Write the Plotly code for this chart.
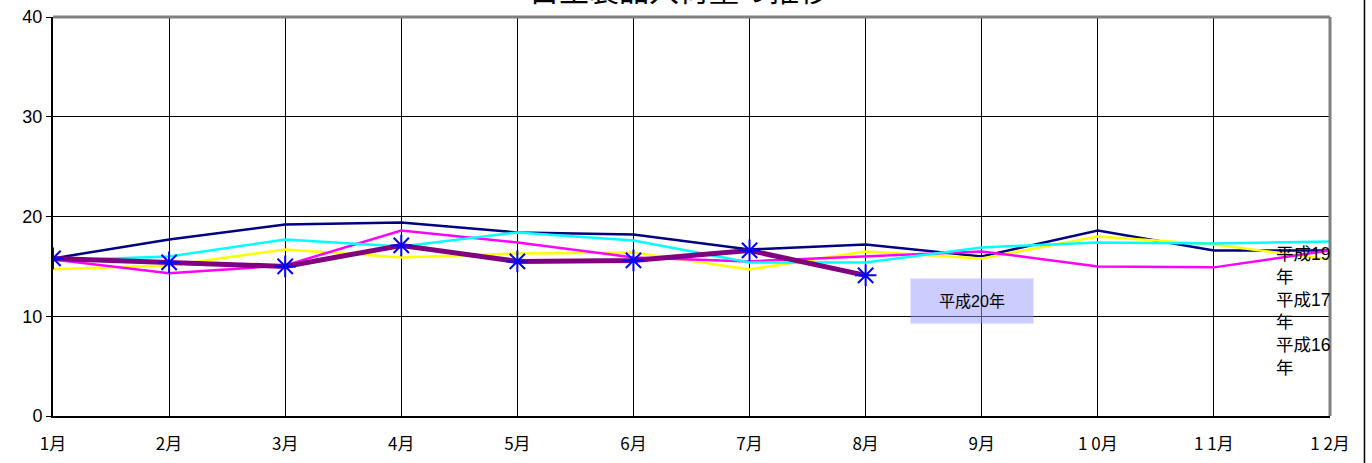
import plotly.graph_objects as go

months = list(range(1, 13))
month_labels = ['1月', '2月', '3月', '4月', '5月', '6月', '7月', '8月', '9月',
                '1 0月', '1 1月', '1 2月']

# values
h16 = [15.8, 17.7, 19.2, 19.4, 18.4, 18.2, 16.7, 17.2, 16.0, 18.6, 16.6, 16.6]
h17 = [15.7, 14.3, 15.1, 18.6, 17.4, 15.9, 15.5, 16.0, 16.5, 15.0, 14.9, 16.6]
h18 = [14.7, 15.1, 16.7, 15.9, 16.3, 16.4, 14.7, 16.5, 15.8, 18.0, 17.2, 15.7]
h19 = [15.6, 16.0, 17.7, 17.0, 18.4, 17.6, 15.4, 15.4, 16.9, 17.4, 17.3, 17.5]
h20 = [15.8, 15.4, 15.0, 17.1, 15.5, 15.6, 16.6, 14.1]

series = [
    ('平成16年', h16, '#000080'),
    ('平成18年', h18, '#ffff00'),
    ('平成17年', h17, '#ff00ff'),
    ('平成19年', h19, '#00ffff'),
]

fig = go.Figure()
for name, vals, color in series:
    fig.add_trace(go.Scatter(
        x=months, y=vals, name=name, mode='lines',
        line=dict(color=color, width=2.5)
    ))
fig.add_trace(go.Scatter(
    x=months[:len(h20)], y=h20, name='平成20年', mode='lines+markers',
    line=dict(color='#800080', width=5),
    marker=dict(symbol='asterisk-open', size=18, color='#0000ff',
                line=dict(color='#0000ff', width=2))
))

fig.update_layout(
    width=1372, height=463,
    margin=dict(l=53, r=42, t=17, b=47),
    paper_bgcolor='white', plot_bgcolor='white',
    showlegend=False,
    font=dict(family='Liberation Sans, Noto Sans CJK JP', color='black'),
    xaxis=dict(
        range=[1, 12], tickvals=months, ticktext=month_labels,
        showgrid=True, gridcolor='black', gridwidth=1,
        showline=True, linecolor='black', linewidth=2,
        zeroline=False, ticks='', ticklabelstandoff=12, automargin=False,
        tickfont=dict(family='Noto Sans CJK JP', size=17),
    ),
    yaxis=dict(
        range=[0, 40], tickvals=[0, 10, 20, 30, 40],
        showgrid=True, gridcolor='black', gridwidth=1,
        showline=True, linecolor='black', linewidth=2, automargin=False,
        zeroline=False, ticks='outside', ticklen=5, tickcolor='black',
        tickfont=dict(family='Liberation Sans', size=18),
    ),
)

# gray frame on top and right
fig.add_shape(type='line', xref='paper', yref='paper', x0=0, x1=1, y0=1, y1=1,
              line=dict(color='#808080', width=3))
fig.add_shape(type='line', xref='paper', yref='paper', x0=1, x1=1, y0=0, y1=1,
              line=dict(color='#808080', width=3))
fig.add_shape(type='line', xref='paper', yref='paper', x0=1.027, x1=1.027, y0=-0.12, y1=1.05,
              line=dict(color='black', width=1.5))

# title, mostly cut off at the top of the picture
fig.add_annotation(
    text='自主製品入荷量の推移', xref='paper', yref='paper', x=0.49, y=1,
    xanchor='center', yanchor='bottom', yshift=5, showarrow=False,
    font=dict(family='Noto Sans CJK JP', size=30, color='black')
)

# data label box for 平成20年
fig.add_annotation(
    text='平成20年', x=9, y=11.5, xshift=-10, showarrow=False,
    width=120, height=42, bgcolor='rgba(153,153,255,0.5)',
    font=dict(family='Liberation Sans, Noto Sans CJK JP', size=16, color='black')
)

# legend remains visible at the right
fig.add_annotation(
    text='平成19<br>年<br>平成17<br>年<br>平成16<br>年',
    xref='paper', yref='paper', x=0.956, y=0.435,
    xanchor='left', yanchor='top', align='left', showarrow=False,
    font=dict(family='Liberation Sans, Noto Sans CJK JP', size=17.5, color='black')
)

fig.write_html('out.html', config={'displayModeBar': False},
               post_script="document.body.style.margin='0';")
